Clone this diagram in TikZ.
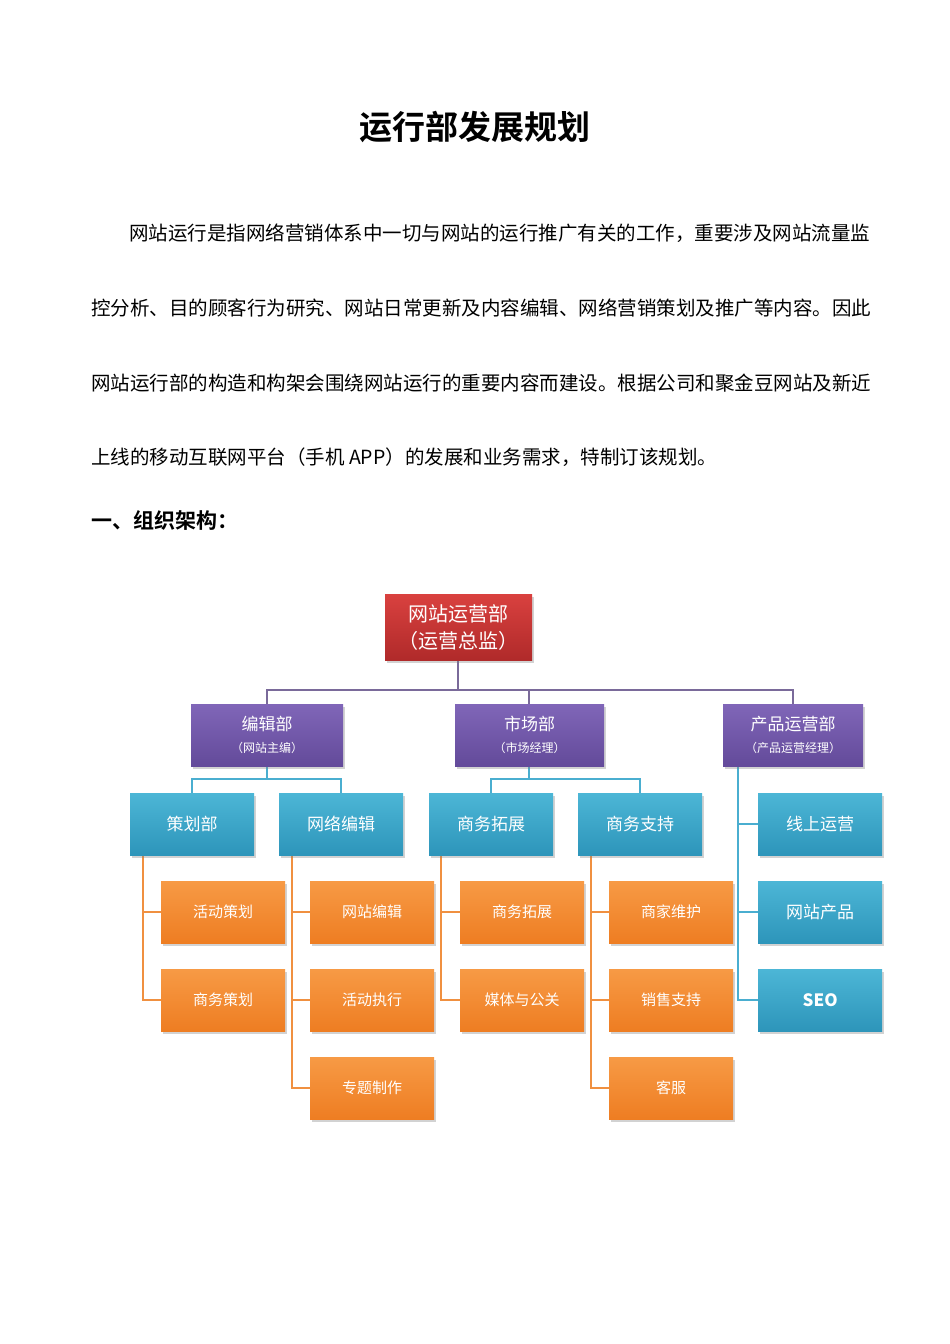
\documentclass[tikz,border=0pt]{standalone}
\usepackage{fontspec}
\setmainfont{Noto Sans CJK SC}
\newfontfamily\cjkb{Noto Sans CJK SC Bold}
\usetikzlibrary{shadows}
\definecolor{redA}{HTML}{D9413F}\definecolor{redB}{HTML}{B02A2A}
\definecolor{purA}{HTML}{8066B8}\definecolor{purB}{HTML}{634A9A}
\definecolor{teaA}{HTML}{4CB6D6}\definecolor{teaB}{HTML}{2D95BA}
\definecolor{orA}{HTML}{F79A45}\definecolor{orB}{HTML}{EE7D22}
\definecolor{purL}{HTML}{7A6A9A}\definecolor{teaL}{HTML}{4AAED0}\definecolor{orL}{HTML}{F09040}
\tikzset{
 box/.style={anchor=north west,minimum height=62pt,inner sep=0pt,text=white,align=center,drop shadow={shadow xshift=2pt,shadow yshift=-3pt,opacity=.35}},
 redbox/.style={box,top color=redA,bottom color=redB,minimum width=147pt,minimum height=66pt,font=\fontsize{20}{27}\selectfont},
 purbox/.style={box,top color=purA,bottom color=purB,font=\fontsize{17}{20}\selectfont},
 teabox/.style={box,top color=teaA,bottom color=teaB,minimum width=124pt,font=\fontsize{17}{20}\selectfont},
 orbox/.style={box,top color=orA,bottom color=orB,minimum width=124pt,font=\fontsize{15}{18}\selectfont\color{white!92!orange}},
 pl/.style={draw=purL,line width=1.2pt},
 tl/.style={draw=teaL,line width=1.2pt},
 ol/.style={draw=orL,line width=1.2pt},
 para/.style={anchor=west,inner sep=0pt,font=\fontsize{19.5}{22}\selectfont}
}
\begin{document}
\begin{tikzpicture}[x=1pt,y=-1pt]
\useasboundingbox[fill=white] (0,0) rectangle (950,1344);
\node (title) at (475,127) {\cjkb\fontsize{33}{36}\selectfont 运行部发展规划};
\node[para] (p1) at (129,233) {网站运行是指网络营销体系中一切与网站的运行推广有关的工作，重要涉及网站流量监};
\node[para] (p2) at (91,308) {控分析、目的顾客行为研究、网站日常更新及内容编辑、网络营销策划及推广等内容。因此};
\node[para] (p3) at (91,383) {网站运行部的构造和构架会围绕网站运行的重要内容而建设。根据公司和聚金豆网站及新近};
\node[para] (p4) at (91,457) {上线的移动互联网平台（手机 APP）的发展和业务需求，特制订该规划。};
\node[anchor=west,inner sep=0pt] (h1) at (91,520) {\cjkb\fontsize{21}{24}\selectfont 一、组织架构：};

% connectors
\draw[pl] (458,660) -- (458,690);
\draw[pl] (267,704) -- (267,690) -- (793,690) -- (793,704);
\draw[pl] (529,690) -- (529,704);
\draw[tl] (267,766) -- (267,779); \draw[tl] (192,793) -- (192,779) -- (341,779) -- (341,793);
\draw[tl] (529,766) -- (529,779); \draw[tl] (491,793) -- (491,779) -- (640,779) -- (640,793);
\draw[tl] (738,766) -- (738,1000) -- (758,1000);
\draw[tl] (738,824) -- (758,824); \draw[tl] (738,912) -- (758,912);
\draw[ol] (143,855) -- (143,1000) -- (161,1000); \draw[ol] (143,912) -- (161,912);
\draw[ol] (292,855) -- (292,1088) -- (310,1088); \draw[ol] (292,912) -- (310,912); \draw[ol] (292,1000) -- (310,1000);
\draw[ol] (441,855) -- (441,1000) -- (460,1000); \draw[ol] (441,912) -- (460,912);
\draw[ol] (591,855) -- (591,1088) -- (609,1088); \draw[ol] (591,912) -- (609,912); \draw[ol] (591,1000) -- (609,1000);

\node[redbox] (top) at (385,594) {网站运营部\\（运营总监）};
\node[purbox,minimum width=152pt] (bj) at (191,704) {编辑部\\[2pt]{\fontsize{12}{14}\selectfont（网站主编）}};
\node[purbox,minimum width=149pt] (sc) at (455,704) {市场部\\[2pt]{\fontsize{12}{14}\selectfont（市场经理）}};
\node[purbox,minimum width=140pt] (cp) at (723,704) {产品运营部\\[2pt]{\fontsize{12}{14}\selectfont（产品运营经理）}};
\node[teabox] (ch) at (130,793) {策划部};
\node[teabox] (wl) at (279,793) {网络编辑};
\node[teabox] (tz) at (429,793) {商务拓展};
\node[teabox] (zc) at (578,793) {商务支持};
\node[teabox] (xs) at (758,793) {线上运营};
\node[teabox] (wz) at (758,881) {网站产品};
\node[teabox] (seo) at (758,969) {\bfseries SEO};
\node[orbox] (o1) at (161,881) {活动策划};
\node[orbox] (o2) at (161,969) {商务策划};
\node[orbox] (o3) at (310,881) {网站编辑};
\node[orbox] (o4) at (310,969) {活动执行};
\node[orbox] (o5) at (310,1057) {专题制作};
\node[orbox] (o6) at (460,881) {商务拓展};
\node[orbox] (o7) at (460,969) {媒体与公关};
\node[orbox] (o8) at (609,881) {商家维护};
\node[orbox] (o9) at (609,969) {销售支持};
\node[orbox] (o10) at (609,1057) {客服};
\end{tikzpicture}
\end{document}
